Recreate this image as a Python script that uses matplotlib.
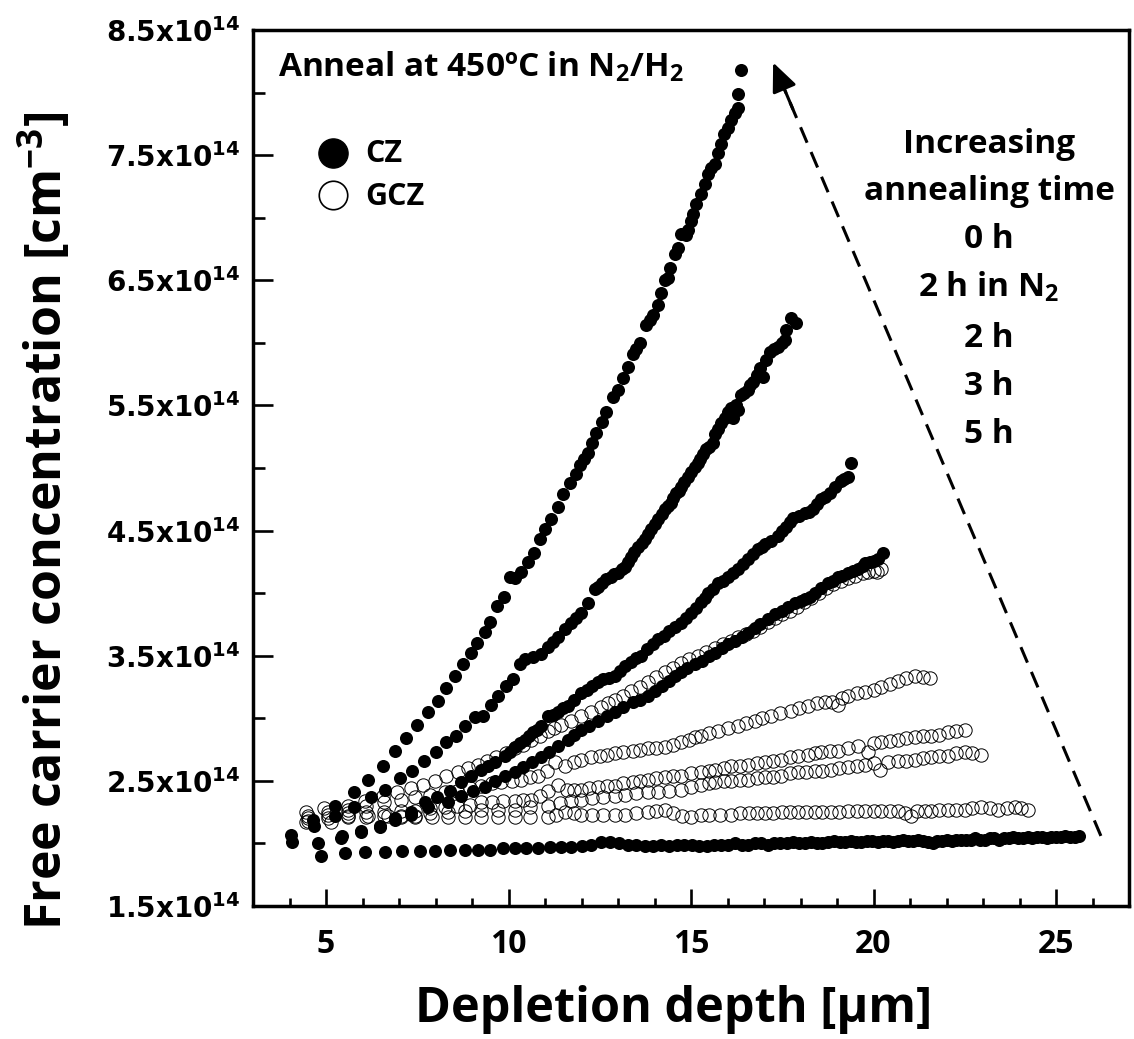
import matplotlib
matplotlib.use("Agg")
import matplotlib.pyplot as plt
from matplotlib.ticker import FixedLocator, MultipleLocator

plt.rcParams['mathtext.fontset'] = 'custom'
plt.rcParams['mathtext.rm'] = 'Open Sans:bold'
plt.rcParams['mathtext.it'] = 'Open Sans:bold'
plt.rcParams['mathtext.bf'] = 'Open Sans:bold'
plt.rcParams['mathtext.sf'] = 'DejaVu Sans:bold'

# ---------------- data (concentration in units of 1e14 cm^-3, depth in um) -------------
cz_5h = [(4.03,2.07),(4.64,2.19),(5.24,2.30),(5.77,2.41),(6.15,2.51),(6.56,2.62),(6.90,2.74),(7.20,2.84),
         (7.50,2.95),(7.80,3.05),(8.07,3.14),(8.30,3.24),(8.53,3.34),(8.75,3.43),(8.97,3.52),(9.14,3.60),
         (9.35,3.69),(9.50,3.77),(9.68,3.90),(9.88,3.97),(10.04,4.13),(10.18,4.12),(10.34,4.17),(10.53,4.25),
         (10.70,4.32),(10.86,4.43),(11.00,4.51),(11.16,4.59),(11.36,4.69),(11.49,4.79),(11.68,4.88),(11.84,4.95),
         (11.96,5.02),(12.08,5.07),(12.18,5.12),(12.30,5.20),(12.40,5.28),(12.55,5.37),(12.67,5.45),(12.86,5.57),
         (13.00,5.62),(13.14,5.72),(13.27,5.81),(13.41,5.91),(13.50,5.95),(13.60,6.00),(13.77,6.14),(13.87,6.18),
         (13.96,6.22),(14.10,6.30),(14.18,6.40),(14.30,6.50),(14.37,6.52),(14.42,6.60),(14.56,6.71),(14.64,6.76),
         (14.73,6.87),(14.85,6.86),(14.92,6.90),(15.00,6.97),(15.05,7.03),(15.14,7.11),(15.27,7.19),(15.37,7.27),
         (15.47,7.35),(15.55,7.40),(15.65,7.43),(15.74,7.52),(15.82,7.59),(15.90,7.67),(16.01,7.72),(16.10,7.78),
         (16.20,7.84),(16.29,7.88),(16.29,7.99),(16.38,8.18)]

cz_3h = [(4.07,2.01),(4.67,2.14),(5.24,2.22),(5.77,2.29),(6.22,2.37),(6.62,2.43),(7.03,2.52),(7.35,2.58),
         (7.68,2.66),(8.01,2.73),(8.29,2.81),(8.56,2.86),(8.81,2.94),(9.08,3.01),(9.30,3.02),(9.52,3.11),
         (9.71,3.18),(9.93,3.26),(10.12,3.31),(10.32,3.43),(10.45,3.47),(10.67,3.49),(10.89,3.51),(11.08,3.57),
         (11.22,3.61),(11.36,3.65),(11.55,3.71),(11.71,3.76),(11.85,3.80),(11.99,3.84),(12.18,3.92),(12.37,4.03),
         (12.45,4.05),(12.56,4.08),(12.67,4.11),(12.81,4.13),(12.90,4.15),(13.00,4.16),(13.10,4.19),(13.20,4.21),
         (13.28,4.25),(13.36,4.29),(13.45,4.33),(13.55,4.37),(13.65,4.40),(13.74,4.43),(13.82,4.47),(13.90,4.51),
         (14.00,4.55),(14.10,4.59),(14.20,4.63),(14.29,4.67),(14.37,4.70),(14.45,4.72),(14.52,4.76),(14.60,4.80),
         (14.66,4.82),(14.73,4.85),(14.82,4.89),(14.92,4.93),(15.01,4.97),(15.11,5.01),(15.18,5.04),(15.25,5.07),
         (15.33,5.11),(15.41,5.15),(15.50,5.17),(15.60,5.20),(15.66,5.27),(15.74,5.31),(15.82,5.36),(15.92,5.40),
         (16.01,5.45),(16.10,5.48),(16.15,5.40),(16.22,5.50),(16.29,5.46),(16.37,5.58),(16.46,5.60),(16.56,5.62),
         (16.63,5.66),(16.70,5.69),(16.80,5.74),(16.89,5.80),(16.97,5.73),(17.05,5.86),(17.16,5.93),(17.27,5.95),
         (17.38,5.97),(17.48,6.00),(17.58,6.02),(17.60,6.10),(17.74,6.20),(17.88,6.16)]

cz_2h = [(4.78,2.00),(5.40,2.04),(5.96,2.09),(6.47,2.13),(6.89,2.19),(7.32,2.23),(7.70,2.33),(8.04,2.37),
         (8.39,2.42),(8.70,2.49),(8.97,2.54),(9.25,2.59),(9.45,2.62),(9.63,2.65),(9.90,2.70),(10.05,2.73),
         (10.18,2.77),(10.32,2.80),(10.45,2.83),(10.56,2.86),(10.67,2.89),(10.78,2.91),(10.89,2.94),(11.08,3.02),
         (11.22,3.03),(11.36,3.05),(11.50,3.08),(11.63,3.10),(11.80,3.15),(11.99,3.20),(12.15,3.23),(12.30,3.26),
         (12.45,3.29),(12.60,3.31),(12.75,3.32),(12.92,3.34),(13.05,3.38),(13.20,3.42),(13.35,3.45),(13.50,3.48),
         (13.64,3.50),(13.80,3.55),(13.95,3.59),(14.10,3.63),(14.25,3.66),(14.40,3.70),(14.55,3.73),(14.73,3.76),
         (14.85,3.80),(15.00,3.84),(15.14,3.88),(15.27,3.93),(15.37,3.96),(15.47,4.00),(15.60,4.03),(15.74,4.08),
         (15.88,4.10),(16.01,4.13),(16.15,4.16),(16.29,4.19),(16.42,4.23),(16.56,4.27),(16.70,4.31),(16.84,4.35),
         (16.95,4.37),(17.03,4.39),(17.20,4.42),(17.38,4.46),(17.50,4.50),(17.60,4.53),(17.70,4.57),(17.80,4.60),
         (17.95,4.62),(18.12,4.64),(18.22,4.65),(18.34,4.67),(18.45,4.71),(18.56,4.75),(18.68,4.77),(18.80,4.80),
         (18.95,4.85),(19.10,4.90),(19.20,4.91),(19.30,4.93),(19.38,5.04)]

cz_2h_n2 = [(5.45,2.06),(5.96,2.10),(6.47,2.14),(6.90,2.20),(7.33,2.25),(7.80,2.29),(8.34,2.33),(8.70,2.38),
            (9.03,2.42),(9.35,2.45),(9.63,2.50),(9.90,2.54),(10.17,2.57),(10.40,2.61),(10.65,2.65),(10.90,2.69),
            (11.10,2.73),(11.36,2.78),(11.63,2.83),(11.80,2.87),(11.99,2.91),(12.20,2.94),(12.45,2.98),(12.70,3.02),
            (12.92,3.05),(13.15,3.09),(13.40,3.13),(13.60,3.15),(13.82,3.18),(14.00,3.22),(14.20,3.26),(14.40,3.30),
            (14.55,3.34),(14.73,3.37),(14.90,3.40),(15.10,3.43),(15.30,3.46),(15.50,3.50),(15.66,3.52),(15.85,3.56),
            (16.00,3.59),(16.20,3.62),(16.40,3.65),(16.56,3.68),(16.75,3.72),(16.90,3.75),(17.10,3.79),(17.30,3.83),
            (17.50,3.86),(17.66,3.89),(17.85,3.92),(18.00,3.94),(18.12,3.95),(18.25,3.97),(18.40,4.00),(18.55,4.04),
            (18.75,4.08),(18.90,4.10),(19.03,4.13),(19.15,4.14),(19.30,4.16),(19.45,4.18),(19.58,4.19),(19.70,4.22),
            (19.77,4.24),(19.90,4.25),(20.00,4.26),(20.12,4.27),(20.26,4.32)]

cz_0h = [(4.85,1.90),(5.51,1.92),(6.07,1.93),(6.61,1.93),(7.09,1.94),(7.57,1.94),(7.98,1.94),(8.39,1.95),
         (8.80,1.95),(9.16,1.95),(9.50,1.95),(9.85,1.96),(10.17,1.96),(10.49,1.96),(10.81,1.96),(11.13,1.97),
         (11.45,1.97),(11.72,1.97),(12.00,1.98),(12.27,1.99),(12.53,2.01),(12.78,2.01),(13.03,2.00),(13.27,1.99),
         (13.50,1.99),(13.73,1.98),(13.96,1.98),(14.18,1.99),(14.40,1.98),(14.61,1.99),(14.82,1.99),(15.03,1.99),
         (15.23,1.98),(15.43,1.98),(15.63,1.99),(15.82,1.99),(16.01,1.99),(16.20,2.00),(16.39,1.99),(16.57,1.99),
         (16.75,2.00),(16.93,2.00),(17.11,1.99),(17.28,2.00),(17.45,2.00),(17.62,2.00),(17.79,2.01),(17.96,2.00),
         (18.12,2.00),(18.28,2.01),(18.44,2.00),(18.60,2.00),(18.76,2.01),(18.92,2.02),(19.07,2.01),(19.22,2.01),
         (19.37,2.02),(19.52,2.01),(19.67,2.01),(19.82,2.02),(19.97,2.02),(20.11,2.01),(20.25,2.02),(20.39,2.02),
         (20.53,2.01),(20.67,2.02),(20.81,2.03),(20.95,2.02),(21.09,2.02),(21.23,2.03),(21.36,2.02),(21.49,2.01),
         (21.62,2.00),(21.75,2.02),(21.88,2.02),(22.01,2.03),(22.14,2.02),(22.27,2.03),(22.40,2.03),(22.53,2.03),
         (22.66,2.03),(22.79,2.04),(22.92,2.03),(23.05,2.03),(23.18,2.04),(23.31,2.04),(23.44,2.03),(23.57,2.04),
         (23.70,2.04),(23.83,2.05),(23.96,2.04),(24.09,2.04),(24.22,2.05),(24.35,2.04),(24.48,2.05),(24.61,2.05),
         (24.74,2.04),(24.87,2.05),(25.00,2.05),(25.13,2.05),(25.26,2.06),(25.39,2.05),(25.52,2.05),(25.63,2.06)]

gcz_5h = [(4.45,2.25),(4.95,2.28),(5.60,2.30),(6.07,2.34),(6.56,2.38),(6.95,2.41),(7.33,2.44),(7.65,2.47),
          (7.98,2.50),(8.30,2.54),(8.62,2.57),(8.90,2.60),(9.16,2.63),(9.40,2.66),(9.66,2.69),(9.92,2.72),
          (10.18,2.76),(10.40,2.79),(10.62,2.83),(10.85,2.86),(11.08,2.90),(11.25,2.92),(11.44,2.95),(11.70,2.98),
          (11.99,3.02),(12.25,3.05),(12.53,3.09),(12.72,3.12),(12.92,3.15),(13.15,3.18),(13.36,3.22),(13.60,3.25),
          (13.82,3.29),(14.05,3.33),(14.29,3.37),(14.50,3.40),(14.73,3.44),(14.95,3.47),(15.19,3.50),(15.42,3.53),
          (15.66,3.56),(15.88,3.59),(16.10,3.62),(16.30,3.65),(16.50,3.67),(16.70,3.70),(16.90,3.73),(17.10,3.77),
          (17.30,3.80),(17.50,3.83),(17.70,3.86),(17.90,3.89),(18.10,3.93),(18.30,3.96),(18.50,4.00),(18.70,4.04),
          (18.90,4.07),(19.10,4.10),(19.30,4.12),(19.50,4.14),(19.70,4.16),(19.85,4.17),(20.00,4.18),(20.10,4.17),
          (20.20,4.19)]

gcz_3h = [(4.50,2.22),(5.05,2.25),(5.60,2.27),(6.10,2.30),(6.60,2.33),(7.05,2.35),(7.45,2.37),(7.85,2.39),
          (8.25,2.41),(8.60,2.42),(8.95,2.44),(9.25,2.46),(9.55,2.48),(9.80,2.49),(10.10,2.50),(10.34,2.51),
          (10.60,2.53),(10.81,2.54),(11.05,2.58),(11.27,2.65),(11.55,2.62),(11.80,2.65),(11.99,2.67),(12.25,2.69),
          (12.50,2.70),(12.70,2.71),(12.92,2.72),(13.15,2.73),(13.40,2.74),(13.60,2.75),(13.82,2.76),(14.05,2.76),
          (14.29,2.77),(14.50,2.79),(14.73,2.81),(14.95,2.83),(15.10,2.85),(15.27,2.86),(15.50,2.88),(15.74,2.90),
          (16.00,2.92),(16.29,2.94),(16.50,2.96),(16.75,2.98),(16.95,3.00),(17.19,3.02),(17.45,3.04),(17.74,3.06),
          (17.95,3.08),(18.21,3.10),(18.45,3.12),(18.67,3.13),(18.85,3.13),(19.03,3.11),(19.15,3.16),(19.30,3.18),
          (19.55,3.20),(19.77,3.21),(20.00,3.23),(20.21,3.25),(20.45,3.27),(20.67,3.30),(20.90,3.32),(21.13,3.34),
          (21.35,3.33),(21.54,3.32)]

gcz_2h = [(4.50,2.20),(5.05,2.23),(5.60,2.24),(6.10,2.25),(6.60,2.25),(7.05,2.26),(7.44,2.26),(7.85,2.28),
          (8.25,2.29),(8.60,2.30),(8.95,2.31),(9.25,2.33),(9.55,2.33),(9.85,2.34),(10.18,2.34),(10.40,2.35),
          (10.62,2.35),(10.85,2.38),(11.08,2.42),(11.36,2.47),(11.60,2.43),(11.80,2.43),(11.99,2.43),(12.20,2.44),
          (12.45,2.45),(12.70,2.46),(12.92,2.46),(13.15,2.48),(13.40,2.49),(13.60,2.50),(13.82,2.51),(14.05,2.52),
          (14.29,2.53),(14.50,2.54),(14.73,2.54),(15.00,2.56),(15.27,2.57),(15.50,2.58),(15.66,2.59),(15.90,2.60),
          (16.10,2.62),(16.35,2.62),(16.56,2.63),(16.80,2.64),(17.03,2.65),(17.25,2.66),(17.47,2.67),(17.70,2.69),
          (17.93,2.70),(18.20,2.71),(18.40,2.72),(18.56,2.73),(18.80,2.74),(19.03,2.74),(19.30,2.76),(19.58,2.78),
          (19.85,2.73),(20.00,2.80),(20.21,2.81),(20.45,2.82),(20.67,2.83),(20.90,2.84),(21.13,2.85),(21.35,2.86),
          (21.58,2.86),(21.80,2.87),(22.04,2.89),(22.25,2.90),(22.50,2.91)]

gcz_2h_n2 = [(4.50,2.18),(5.05,2.20),(5.60,2.21),(6.10,2.21),(6.60,2.22),(7.05,2.22),(7.44,2.22),(7.85,2.24),
             (8.34,2.25),(8.80,2.26),(9.25,2.27),(9.70,2.27),(10.18,2.27),(10.60,2.29),(11.08,2.30),(11.40,2.32),
             (11.70,2.34),(11.99,2.35),(12.30,2.36),(12.60,2.37),(12.92,2.38),(13.20,2.39),(13.50,2.40),(13.82,2.41),
             (14.10,2.41),(14.40,2.42),(14.73,2.43),(15.00,2.45),(15.27,2.47),(15.50,2.48),(15.66,2.49),(15.90,2.50),
             (16.10,2.50),(16.35,2.51),(16.56,2.51),(16.80,2.52),(17.03,2.53),(17.25,2.53),(17.47,2.54),(17.70,2.56),
             (17.93,2.57),(18.15,2.57),(18.40,2.58),(18.60,2.58),(18.84,2.59),(19.05,2.60),(19.30,2.61),(19.55,2.62),
             (19.77,2.63),(20.00,2.64),(20.17,2.59),(20.40,2.65),(20.67,2.66),(20.90,2.66),(21.13,2.67),(21.35,2.68),
             (21.58,2.69),(21.80,2.70),(22.04,2.70),(22.25,2.72),(22.50,2.73),(22.70,2.72),(22.95,2.71)]

gcz_0h = [(4.45,2.17),(5.14,2.17),(5.60,2.22),(6.15,2.22),(6.70,2.22),(7.05,2.21),(7.44,2.21),(7.90,2.21),
          (8.34,2.21),(8.80,2.21),(9.25,2.21),(9.70,2.21),(10.18,2.21),(10.60,2.21),(11.08,2.21),(11.30,2.23),
          (11.55,2.25),(11.80,2.24),(11.99,2.23),(12.30,2.23),(12.60,2.23),(12.92,2.23),(13.20,2.23),(13.50,2.24),
          (13.82,2.25),(14.05,2.26),(14.29,2.27),(14.50,2.24),(14.75,2.22),(15.00,2.21),(15.27,2.23),(15.50,2.23),
          (15.80,2.23),(16.10,2.23),(16.35,2.24),(16.60,2.24),(16.80,2.24),(17.03,2.24),(17.25,2.24),(17.50,2.25),
          (17.70,2.25),(17.93,2.25),(18.15,2.25),(18.40,2.25),(18.60,2.25),(18.84,2.25),(19.05,2.25),(19.30,2.26),
          (19.55,2.26),(19.77,2.26),(20.00,2.26),(20.20,2.26),(20.45,2.26),(20.67,2.26),(20.85,2.24),(21.03,2.22),
          (21.20,2.26),(21.40,2.26),(21.58,2.26),(21.80,2.27),(22.04,2.27),(22.25,2.27),(22.50,2.27),(22.70,2.28),
          (22.95,2.29),(23.20,2.28),(23.41,2.27),(23.65,2.28),(23.87,2.29),(24.05,2.28),(24.23,2.27)]

cz_series = [cz_0h, cz_2h_n2, cz_2h, cz_3h, cz_5h]
gcz_series = [gcz_0h, gcz_2h_n2, gcz_2h, gcz_3h, gcz_5h]

x_major = [5, 10, 15, 20, 25]
y_major = [1.5, 2.5, 3.5, 4.5, 5.5, 6.5, 7.5, 8.5]
y_minor = [2.0, 3.0, 4.0, 5.0, 6.0, 7.0, 8.0]
time_labels = ["0 h", r"2 h in N$_2$", "2 h", "3 h", "5 h"]
arrow_tail = (26.23, 2.06)
arrow_tip = (17.25, 8.24)

# ---------------- figure ----------------
fig = plt.figure(figsize=(11.34, 10.39), dpi=100)
ax = fig.add_axes([253/1134, 133/1039, 876/1134, 876/1039])

for s in cz_series:
    xs, ys = zip(*s)
    ax.plot(xs, ys, ls='none', marker='o', ms=9.4, mfc='black', mec='black', mew=0)
for s in gcz_series:
    xs, ys = zip(*s)
    ax.plot(xs, ys, ls='none', marker='o', ms=9.6, mfc='none', mec='black', mew=0.7)

ax.set_xlim(3, 27)
ax.set_ylim(1.5, 8.5)

ax.set_xticks(x_major)
ax.xaxis.set_minor_locator(MultipleLocator(1))
ax.set_xticklabels([str(v) for v in x_major])
ax.set_yticks(y_major)
ax.yaxis.set_minor_locator(FixedLocator(y_minor))
ax.set_yticklabels([r'$\mathsf{%.1fx10^{14}}$' % v for v in y_major])

ax.tick_params(which='both', direction='in', top=False, right=False, width=1.9, color='black')
ax.tick_params(axis='x', which='major', length=12, pad=16, labelsize=23)
ax.tick_params(axis='x', which='minor', length=6)
ax.tick_params(axis='y', which='major', length=14.5, pad=9, labelsize=20)
ax.tick_params(axis='y', which='minor', length=8.5)
for lbl in ax.get_xticklabels():
    lbl.set_fontfamily('Open Sans')
    lbl.set_fontweight('bold')

for sp in ax.spines.values():
    sp.set_linewidth(2.5)

ax.set_xlabel('Depletion depth [μm]', fontsize=35, fontweight='bold', family='Open Sans', va='baseline')
ax.xaxis.set_label_coords(0.48, -0.1324)
ax.set_ylabel(r'Free carrier concentration [cm$^{-3}$]', fontsize=36, fontweight='bold',
              family='Open Sans', va='baseline')
ax.yaxis.set_label_coords(-0.218, 0.44)

# title-like annotation
ax.text(0.0285, 0.9463, r'Anneal at 450ºC in N$_2$/H$_2$', transform=ax.transAxes,
        fontsize=24, fontweight='bold', family='Open Sans', ha='left', va='baseline')

# legend
ax.plot([0.0913], [0.8596], marker='o', ms=21, mfc='black', mec='black', transform=ax.transAxes, clip_on=False)
ax.plot([0.0913], [0.8116], marker='o', ms=20.5, mfc='none', mec='black', mew=1.2, transform=ax.transAxes, clip_on=False)
ax.text(0.1279, 0.8584, 'CZ', transform=ax.transAxes, fontsize=22, fontweight='bold',
        family='Open Sans', ha='left', va='center')
ax.text(0.1279, 0.8094, 'GCZ', transform=ax.transAxes, fontsize=22, fontweight='bold',
        family='Open Sans', ha='left', va='center')

# right block
block = ["Increasing", "annealing time"] + time_labels
baselines = [0.8596, 0.8059, 0.7511, 0.6952, 0.6381, 0.5833, 0.5285]
for t, yb in zip(block, baselines):
    ax.text(0.8402, yb, t, transform=ax.transAxes, fontsize=24, fontweight='bold',
            family='Open Sans', ha='center', va='baseline')

# dashed arrow
fx = 0.965
mid = (arrow_tail[0] + fx*(arrow_tip[0]-arrow_tail[0]), arrow_tail[1] + fx*(arrow_tip[1]-arrow_tail[1]))
ax.plot([arrow_tail[0], mid[0]], [arrow_tail[1], mid[1]], color='black', lw=2.2, dashes=(5.5, 3.3))
pre = (arrow_tail[0] + 0.94*(arrow_tip[0]-arrow_tail[0]), arrow_tail[1] + 0.94*(arrow_tip[1]-arrow_tail[1]))
ax.annotate('', xy=arrow_tip, xytext=pre,
            arrowprops=dict(arrowstyle='-|>,head_length=0.8,head_width=0.35', color='black', lw=2.2,
                            mutation_scale=22, shrinkA=0, shrinkB=0))

fig.savefig('out.png', dpi=100)
